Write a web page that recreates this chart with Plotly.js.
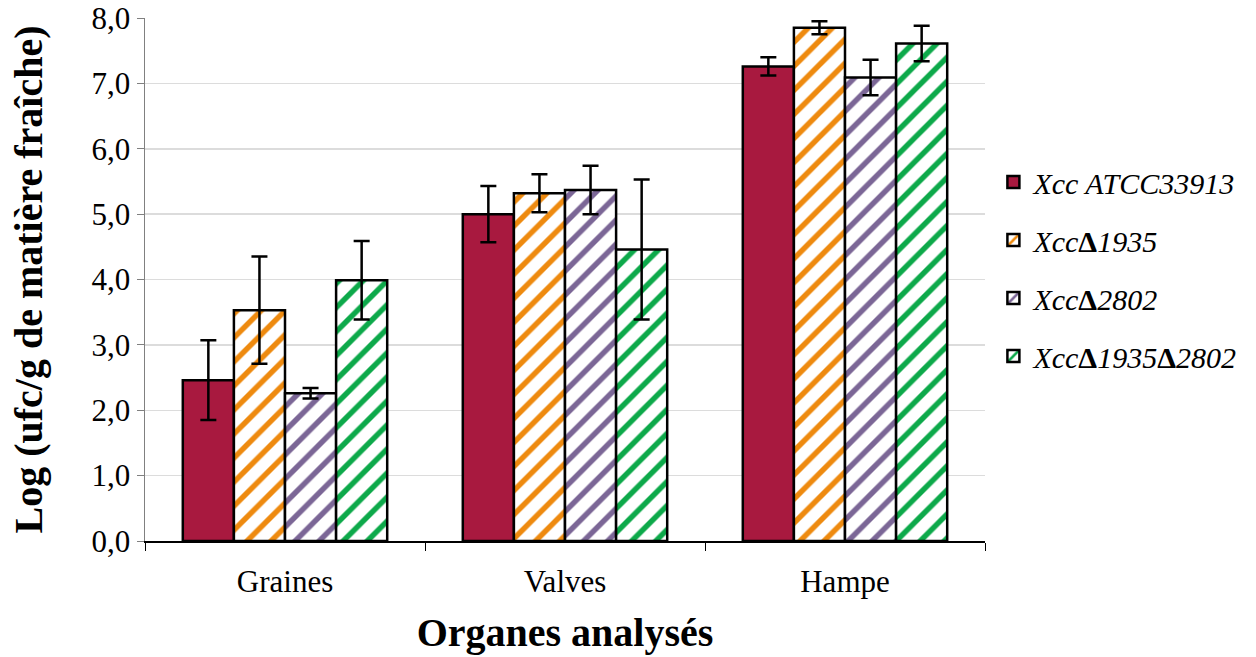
<!DOCTYPE html>
<html>
<head>
<meta charset="utf-8">
<script src="https://cdn.plot.ly/plotly-3.0.1.min.js"></script>
<style>body{margin:0;background:#fff}#chart{width:1256px;height:657px}</style>
</head>
<body>
<div id="chart"></div>
<script>
const categories = ['Graines', 'Valves', 'Hampe'];
const seriesNames = ['<i>Xcc ATCC33913</i>', '<i>Xcc</i><b>Δ</b><i>1935</i>', '<i>Xcc</i><b>Δ</b><i>2802</i>', '<i>Xcc</i><b>Δ</b><i>1935</i><b>Δ</b><i>2802</i>'];
const wt = [2.46, 5.00, 7.26];
const wtErr = [0.61, 0.43, 0.14];
const d1935 = [3.53, 5.32, 7.85];
const d1935Err = [0.82, 0.29, 0.10];
const d2802 = [2.26, 5.37, 7.09];
const d2802Err = [0.08, 0.37, 0.27];
const d1935d2802 = [3.99, 4.46, 7.61];
const d1935d2802Err = [0.60, 1.07, 0.27];
const colors = ['#A8193F', '#EE8A0F', '#7B6696', '#0DA94A'];

const values = [wt, d1935, d2802, d1935d2802];
const errs = [wtErr, d1935Err, d2802Err, d1935d2802Err];

const traces = values.map((v, i) => {
  const marker = {color: i === 0 ? colors[0] : '#ffffff', line: {color: '#000000', width: 2.5}};
  if (i > 0) {
    marker.pattern = {shape: '/', fgcolor: colors[i], bgcolor: '#ffffff', size: 17, solidity: 0.32, fillmode: 'replace'};
  }
  return {
    type: 'bar', name: seriesNames[i], x: categories, y: v,
    legendgroup: 'g' + i,
    marker: marker,
    error_y: {type: 'data', array: errs[i], visible: true, color: '#000000', thickness: 2.5, width: 8}
  };
});

const font = "Liberation Serif, DejaVu Serif, serif";
const layout = {
  width: 1256, height: 657,
  margin: {l: 145, r: 271, t: 18, b: 116},
  paper_bgcolor: '#ffffff', plot_bgcolor: '#ffffff',
  font: {family: font, color: '#000000', size: 30},
  barmode: 'group', bargap: 0.27, bargroupgap: 0,
  separators: ',.',
  showlegend: true,
  legend: {x: 1.01, xanchor: 'left', y: 0.52, yanchor: 'middle', font: {family: font, size: 30, color: '#000'},
           traceorder: 'grouped', tracegroupgap: 16, itemwidth: 30},
  xaxis: {
    showline: true, linecolor: '#000000', linewidth: 1.5,
    ticks: 'outside', ticklen: 8, tickcolor: '#000000', tickson: 'boundaries',
    ticklabelstandoff: 12,
    tickfont: {family: font, size: 31},
    title: {text: '<b>Organes analysés</b>', font: {family: font, size: 40}, standoff: 20}
  },
  yaxis: {
    range: [0, 8], dtick: 1, tickformat: '.1f',
    showline: true, linecolor: '#808080', linewidth: 1.5,
    ticks: 'outside', ticklen: 7, tickcolor: '#808080',
    gridcolor: '#dcdcdc', gridwidth: 1.5, zeroline: false,
    tickfont: {family: font, size: 31},
    title: {text: '<b>Log (ufc/g de matière fraîche)</b>', font: {family: font, size: 40}, standoff: 36}
  }
};

Plotly.newPlot('chart', traces, layout, {displayModeBar: false, staticPlot: true});
</script>
</body>
</html>
